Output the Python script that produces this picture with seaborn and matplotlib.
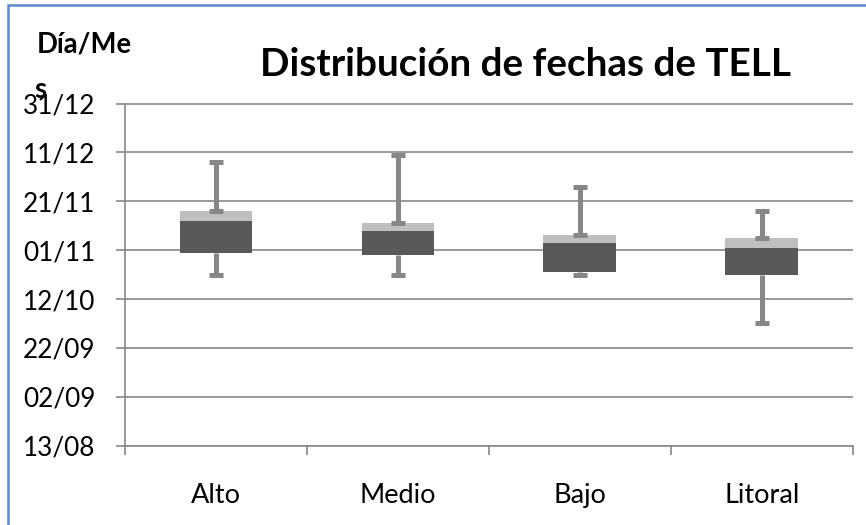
import matplotlib
matplotlib.use("Agg")
import matplotlib.pyplot as plt
import matplotlib.dates as mdates
from matplotlib.patches import Rectangle
from matplotlib.ticker import FixedLocator, FixedFormatter, NullFormatter
import numpy as np
import pandas as pd
import seaborn as sns

# Fechas (día/mes) de cada zona: extremos, cuartiles y mediana
zonas = ["Alto", "Medio", "Bajo", "Litoral"]
fecha_min = ["22/10", "22/10", "22/10", "02/10"]
fecha_q1 = ["31/10", "30/10", "23/10", "22/10"]
fecha_mediana = ["13/11", "09/11", "04/11", "02/11"]
fecha_q3 = ["17/11", "12/11", "07/11", "06/11"]
fecha_max = ["07/12", "10/12", "27/11", "17/11"]
marcas_eje = ["13/08", "02/09", "22/09", "12/10", "01/11", "21/11", "11/12", "31/12"]

ANIO = 2011


def a_num(fechas):
    """Convierte 'dd/mm' en números de fecha de matplotlib."""
    fechas_dt = pd.to_datetime([f"{f}/{ANIO}" for f in fechas], format="%d/%m/%Y")
    return mdates.date2num(fechas_dt.to_pydatetime())


df = pd.DataFrame({
    "zona": zonas,
    "min": a_num(fecha_min),
    "q1": a_num(fecha_q1),
    "med": a_num(fecha_mediana),
    "q3": a_num(fecha_q3),
    "max": a_num(fecha_max),
})
df["inferior"] = df["med"] - df["q1"]
df["superior"] = df["q3"] - df["med"]

sns.set_theme(style="white")
plt.rcParams["font.family"] = ["Lato", "DejaVu Sans"]
plt.rcParams["text.color"] = "black"

GRIS = "#878787"
OSCURO = "#595959"
CLARO = "#BFBFBF"

fig = plt.figure(figsize=(8.66, 5.25), dpi=100)
ax = fig.add_axes([125 / 866, 1 - 445.7 / 525, (852.7 - 125) / 866, (445.7 - 103.5) / 525])
pos = np.arange(len(zonas))

# Bigote inferior (detrás de la caja, con remate sólo en el mínimo)
_, remates, _ = ax.errorbar(pos, df["q1"], yerr=[df["q1"] - df["min"], np.zeros(len(pos))],
                            fmt="none", ecolor=GRIS, elinewidth=3.6, capsize=5,
                            capthick=3.6, zorder=1.5)
for remate in remates:
    if np.allclose(remate.get_ydata(), df["q1"].to_numpy()):
        remate.set_visible(False)

# Caja: tramo Q1-mediana y tramo mediana-Q3
sns.barplot(data=df, x="zona", y="inferior", bottom=df["q1"].to_numpy(), color=OSCURO,
            saturation=1, width=0.4, errorbar=None, linewidth=0, zorder=2, ax=ax)
sns.barplot(data=df, x="zona", y="superior", bottom=df["med"].to_numpy(), color=CLARO,
            saturation=1, width=0.4, errorbar=None, linewidth=0, zorder=2, ax=ax)

# Bigote superior
ax.errorbar(pos, df["q3"], yerr=[np.zeros(len(pos)), df["max"] - df["q3"]],
            fmt="none", ecolor=GRIS, elinewidth=3.6, capsize=5, capthick=3.6, zorder=3)

# Ejes
ax.set_xlim(-0.5, len(zonas) - 0.5)
ticks_y = a_num(marcas_eje)
ax.set_ylim(ticks_y[0], ticks_y[-1])
ax.set_yticks(ticks_y)
ax.set_yticklabels(marcas_eje)
ax.set_xlabel("")
ax.set_ylabel("")

ax.xaxis.set_major_locator(FixedLocator(np.arange(-0.5, len(zonas), 1.0)))
ax.xaxis.set_major_formatter(NullFormatter())
ax.xaxis.set_minor_locator(FixedLocator(pos))
ax.xaxis.set_minor_formatter(FixedFormatter(zonas))

ax.tick_params(axis="x", which="major", bottom=True, direction="out", length=6.7,
               width=1.2, color=GRIS)
ax.tick_params(axis="x", which="minor", bottom=True, length=0, pad=27,
               labelsize=19.5, labelcolor="black")
ax.tick_params(axis="y", left=True, direction="out", length=6.5, width=1.2, color=GRIS,
               pad=15, labelsize=18.8, labelcolor="black")

ax.set_axisbelow(True)
ax.yaxis.grid(True, color=GRIS, linewidth=1.2)
ax.xaxis.grid(False)
for lado in ["top", "right"]:
    ax.spines[lado].set_visible(False)
for lado in ["left", "bottom"]:
    ax.spines[lado].set_color(GRIS)
    ax.spines[lado].set_linewidth(1.2)

# Títulos
fig.text(526 / 866, 1 - 76 / 525, "Distribución de fechas de TELL", ha="center",
         va="baseline", fontsize=27.8, fontweight="bold")
fig.text(37 / 866, 1 - 53 / 525, "Día/Me", ha="left", va="baseline",
         fontsize=19.8, fontweight="bold")
fig.text(34 / 866, 1 - 98 / 525, "s", ha="left", va="baseline",
         fontsize=19.8, fontweight="bold")

# Marco del gráfico
fig.add_artist(Rectangle((8 / 866, -0.5), 1.5, 0.5 + 1 - 5 / 525, transform=fig.transFigure,
                         fill=False, edgecolor="#5B8CC8", linewidth=1.8, clip_on=False))

fig.savefig("out.png", dpi=100)
